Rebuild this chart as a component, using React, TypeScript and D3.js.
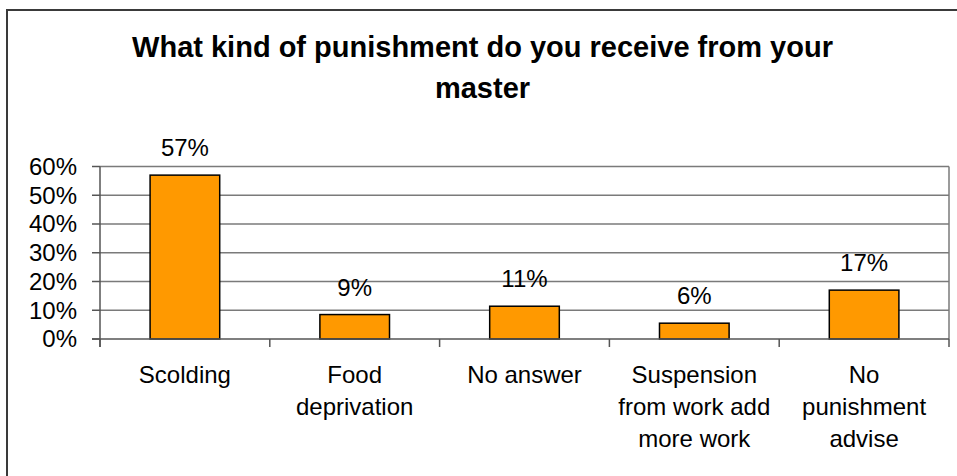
import React from "react";
import * as d3 from "d3";

const titleLines = ["What kind of punishment do you receive from your", "master"];
const categories = [
  ["Scolding"],
  ["Food", "deprivation"],
  ["No answer"],
  ["Suspension", "from work add", "more work"],
  ["No", "punishment", "advise"],
];
const values = [57, 8.5, 11.4, 5.5, 17]; // percent
const yTicks = [0, 10, 20, 30, 40, 50, 60];

const W = 957;
const H = 476;
const plot = { left: 100, right: 949, top: 166.5, bottom: 339 };
const FONT = "'Liberation Sans', Arial, sans-serif";

export default function App() {
  const x = d3
    .scaleBand<number>()
    .domain(d3.range(categories.length))
    .range([plot.left, plot.right])
    .paddingInner(0.59)
    .paddingOuter(0.295);
  const step = x.step();
  const y = d3.scaleLinear().domain([0, 60]).range([plot.bottom, plot.top]);

  const boundaries = d3.range(categories.length + 1).map((i) => plot.left + i * step);

  return (
    <svg
      width={W}
      height={H}
      style={{ position: "absolute", left: 0, top: 0, background: "#fff" }}
      fontFamily={FONT}
    >
      <rect x={7} y={10} width={W + 10} height={H + 10} fill="#fff" stroke="#3a3a3a" strokeWidth={2} />

      {titleLines.map((t, i) => (
        <text
          key={i}
          x={482.5}
          y={57 + i * 41}
          textAnchor="middle"
          fontSize={29}
          fontWeight="bold"
          fill="#000"
        >
          {t}
        </text>
      ))}

      {/* gridlines */}
      {yTicks.slice(1).map((t) => (
        <line key={t} x1={plot.left} x2={plot.right} y1={y(t)} y2={y(t)} stroke="#7a7a7a" strokeWidth={1.3} />
      ))}
      <line x1={plot.right} x2={plot.right} y1={plot.top} y2={plot.bottom} stroke="#7a7a7a" strokeWidth={1.5} />

      {/* bars */}
      {values.map((v, i) => (
        <rect
          key={i}
          x={x(i)}
          y={y(v)}
          width={x.bandwidth()}
          height={y(0) - y(v)}
          fill="#FF9900"
          stroke="#000"
          strokeWidth={1.5}
        />
      ))}

      {/* axes */}
      <line x1={plot.left} x2={plot.left} y1={plot.top} y2={plot.bottom + 8} stroke="#555" strokeWidth={1.5} />
      <line x1={plot.left - 8} x2={plot.right} y1={plot.bottom} y2={plot.bottom} stroke="#555" strokeWidth={1.5} />
      {yTicks.map((t) => (
        <line key={t} x1={plot.left - 8} x2={plot.left} y1={y(t)} y2={y(t)} stroke="#555" strokeWidth={1.5} />
      ))}
      {boundaries.map((bx, i) => (
        <line key={i} x1={bx} x2={bx} y1={plot.bottom} y2={plot.bottom + 8} stroke="#555" strokeWidth={1.5} />
      ))}

      {/* y tick labels */}
      {yTicks.map((t) => (
        <text key={t} x={77} y={y(t)} dy="0.35em" textAnchor="end" fontSize={24} fill="#000">
          {`${t}%`}
        </text>
      ))}

      {/* data labels */}
      {values.map((v, i) => (
        <text
          key={i}
          x={(x(i) as number) + x.bandwidth() / 2}
          y={y(v) - 19}
          textAnchor="middle"
          fontSize={24}
          fill="#000"
        >
          {`${Math.round(v)}%`}
        </text>
      ))}

      {/* category labels */}
      {categories.map((lines, i) => (
        <text
          key={i}
          x={(x(i) as number) + x.bandwidth() / 2}
          y={383}
          textAnchor="middle"
          fontSize={24}
          fill="#000"
        >
          {lines.map((l, j) => (
            <tspan key={j} x={(x(i) as number) + x.bandwidth() / 2} dy={j === 0 ? 0 : 32}>
              {l}
            </tspan>
          ))}
        </text>
      ))}
    </svg>
  );
}
